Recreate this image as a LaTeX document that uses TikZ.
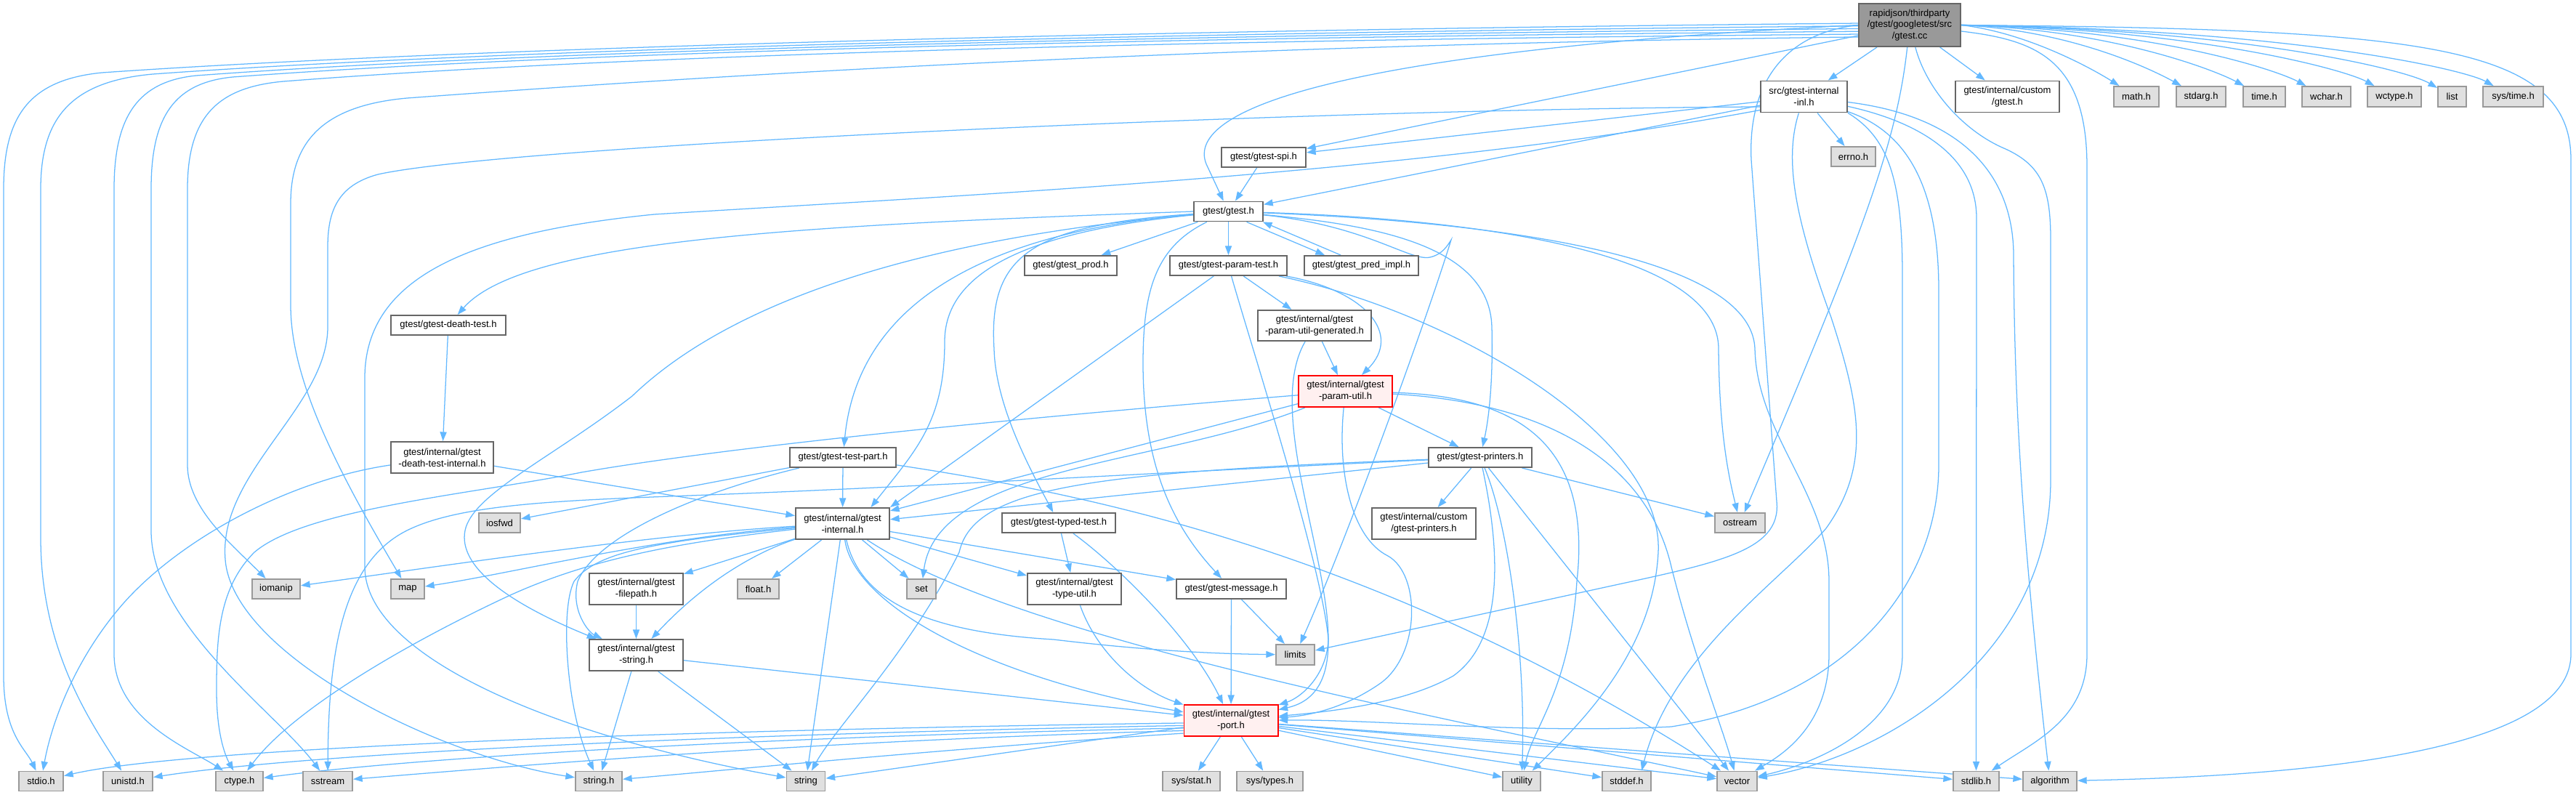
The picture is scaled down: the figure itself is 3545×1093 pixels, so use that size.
\documentclass[tikz,border=0pt]{standalone}
\usepackage{fontspec}
\setmainfont{Liberation Sans}
\usetikzlibrary{arrows.meta,backgrounds}
\definecolor{edgecol}{HTML}{63B8FF}
\definecolor{wborder}{HTML}{666666}
\definecolor{gborder}{HTML}{999999}
\definecolor{gfill}{HTML}{E0E0E0}
\definecolor{rootfill}{HTML}{999999}
\definecolor{rborder}{HTML}{FF0000}
\definecolor{rfill}{HTML}{FFF0F0}
\tikzset{
  bx/.style={rectangle, inner sep=0pt, align=center, line width=0.55pt, font=\fontsize{3.7}{4.5}\selectfont},
  wn/.style={bx, draw=wborder, fill=white},
  gn/.style={bx, draw=gborder, fill=gfill},
  rn/.style={bx, draw=rborder, fill=rfill},
  rootbox/.style={bx, draw=wborder, fill=rootfill},
  sz/.style 2 args={minimum width=#1cm, minimum height=#2cm},
  edg/.style={draw=edgecol, line width=0.36pt, -{Triangle[length=3.6pt,width=2.6pt]}},
}
\begin{document}
\begin{tikzpicture}[x=0.01cm,y=-0.01cm]
\useasboundingbox (0,0) rectangle (3545,1093);
% ---------- nodes ----------
\node[rootbox, sz={1.40}{0.59}] (root) at (2628,34.5) {rapidjson/thirdparty\\/gtest/googletest/src\\/gtest.cc};
\node[wn, sz={1.19}{0.43}] (inl) at (2482.5,133) {src/gtest-internal\\-inl.h};
\node[wn, sz={1.43}{0.43}] (cgtest) at (2762.5,133) {gtest/internal/custom\\/gtest.h};
\node[gn, sz={0.62}{0.28}] (math) at (2940,133) {math.h};
\node[gn, sz={0.68}{0.28}] (stdarg) at (3029,133) {stdarg.h};
\node[gn, sz={0.58}{0.28}] (timeh) at (3116,133) {time.h};
\node[gn, sz={0.67}{0.28}] (wchar) at (3201.5,133) {wchar.h};
\node[gn, sz={0.74}{0.28}] (wctype) at (3295,133) {wctype.h};
\node[gn, sz={0.39}{0.28}] (list) at (3374.5,133) {list};
\node[gn, sz={0.83}{0.28}] (systime) at (3458.5,133) {sys/time.h};
\node[gn, sz={0.61}{0.27}] (errno) at (2550.5,215.5) {errno.h};
\node[wn, sz={1.16}{0.27}] (spi) at (1739,216.5) {gtest/gtest-spi.h};
\node[wn, sz={0.95}{0.27}] (gtesth) at (1690.5,291) {gtest/gtest.h};
\node[wn, sz={1.27}{0.27}] (prod) at (1473.5,365.5) {gtest/gtest\_prod.h};
\node[wn, sz={1.61}{0.27}] (paramtest) at (1690.5,365.5) {gtest/gtest-param-test.h};
\node[wn, sz={1.57}{0.27}] (predimpl) at (1873.5,365.5) {gtest/gtest\_pred\_impl.h};
\node[wn, sz={1.56}{0.42}] (generated) at (1809,448) {gtest/internal/gtest\\-param-util-generated.h};
\node[wn, sz={1.58}{0.27}] (deathtest) at (617,447.5) {gtest/gtest-death-test.h};
\node[rn, sz={1.29}{0.43}] (paramutil) at (1851.5,538.5) {gtest/internal/gtest\\-param-util.h};
\node[wn, sz={1.41}{0.43}] (deathint) at (608.5,629.5) {gtest/internal/gtest\\-death-test-internal.h};
\node[wn, sz={1.46}{0.27}] (testpart) at (1160,629.5) {gtest/gtest-test-part.h};
\node[wn, sz={1.42}{0.27}] (printers) at (2037,629.5) {gtest/gtest-printers.h};
\node[wn, sz={1.29}{0.43}] (internal) at (1159.5,720.5) {gtest/internal/gtest\\-internal.h};
\node[gn, sz={0.57}{0.27}] (iosfwd) at (687.5,719.5) {iosfwd};
\node[wn, sz={1.56}{0.27}] (typedtest) at (1457,719.5) {gtest/gtest-typed-test.h};
\node[wn, sz={1.43}{0.43}] (cprinters) at (1959.5,720.5) {gtest/internal/custom\\/gtest-printers.h};
\node[gn, sz={0.69}{0.27}] (ostream) at (2394.5,719.5) {ostream};
\node[gn, sz={0.66}{0.27}] (iomanip) at (380,810.5) {iomanip};
\node[gn, sz={0.46}{0.27}] (map) at (561,810.5) {map};
\node[wn, sz={1.29}{0.43}] (filepath) at (875.5,810.5) {gtest/internal/gtest\\-filepath.h};
\node[gn, sz={0.57}{0.27}] (floath) at (1043.5,810.5) {float.h};
\node[gn, sz={0.40}{0.27}] (set) at (1268,810.5) {set};
\node[wn, sz={1.29}{0.43}] (typeutil) at (1478.5,810.5) {gtest/internal/gtest\\-type-util.h};
\node[wn, sz={1.51}{0.27}] (message) at (1694.5,810.5) {gtest/gtest-message.h};
\node[wn, sz={1.29}{0.43}] (gstring) at (875.5,901.5) {gtest/internal/gtest\\-string.h};
\node[gn, sz={0.53}{0.28}] (limits) at (1782.5,901) {limits};
\node[rn, sz={1.29}{0.43}] (port) at (1694,991.5) {gtest/internal/gtest\\-port.h};
\node[gn, sz={0.61}{0.27}] (stdio) at (56.5,1075) {stdio.h};
\node[gn, sz={0.68}{0.27}] (unistd) at (176,1075) {unistd.h};
\node[gn, sz={0.65}{0.27}] (ctype) at (329.5,1075) {ctype.h};
\node[gn, sz={0.68}{0.27}] (sstream) at (451,1075) {sstream};
\node[gn, sz={0.64}{0.27}] (stringh) at (824,1075) {string.h};
\node[gn, sz={0.53}{0.27}] (string) at (1109,1075) {string};
\node[gn, sz={0.79}{0.27}] (sysstat) at (1639.5,1075) {sys/stat.h};
\node[gn, sz={0.91}{0.27}] (systypes) at (1747.5,1075) {sys/types.h};
\node[gn, sz={0.52}{0.27}] (utility) at (2094,1075) {utility};
\node[gn, sz={0.67}{0.27}] (stddef) at (2238.5,1075) {stddef.h};
\node[gn, sz={0.55}{0.27}] (vector) at (2390.5,1075) {vector};
\node[gn, sz={0.63}{0.27}] (stdlib) at (2719.5,1075) {stdlib.h};
\node[gn, sz={0.74}{0.27}] (algorithm) at (2821,1075) {algorithm};
% ---------- edges ----------
\begin{scope}[on background layer]
% root
\draw[edg] (root.178) .. controls (1500,42) and (600,68) .. (140,100) .. controls (40,110) and (5,160) .. (5,260) -- (5,930) .. controls (5,1010) and (35,1030) .. (stdio);
\draw[edg] (root.181) .. controls (1500,46) and (650,70) .. (210,102) .. controls (100,112) and (56,160) .. (56,260) -- (56,740) .. controls (56,900) and (130,1000) .. (unistd);
\draw[edg] (root.184) .. controls (1500,49) and (700,72) .. (270,104) .. controls (190,112) and (157,160) .. (157,260) -- (157,900) .. controls (157,990) and (260,1030) .. (ctype);
\draw[edg] (root.187) .. controls (1500,52) and (750,74) .. (320,106) .. controls (240,114) and (208,160) .. (208,260) -- (208,730) .. controls (208,860) and (380,980) .. (sstream);
\draw[edg] (root.190) .. controls (1500,56) and (800,80) .. (390,112) .. controls (300,120) and (258,160) .. (258,260) -- (258,640) .. controls (258,700) and (320,750) .. (iomanip);
\draw[edg] (root.193) .. controls (1600,62) and (900,110) .. (560,135) .. controls (450,145) and (400,190) .. (400,280) -- (400,420) .. controls (400,520) and (460,640) .. (map);
\draw[edg] (root.west) .. controls (1850,70) and (1620,150) .. (1662,230) -- (gtesth);
\draw[edg] (root) -- (spi);
\draw[edg] (root) -- (inl);
\draw[edg] (root) -- (cgtest);
\draw[edg] (root.east) .. controls (2790,45) and (2880,95) .. (math);
\draw[edg] (root.east) .. controls (2850,42) and (2960,95) .. (stdarg);
\draw[edg] (root.east) .. controls (2900,40) and (3045,95) .. (timeh);
\draw[edg] (root.east) .. controls (2960,40) and (3130,95) .. (wchar);
\draw[edg] (root.east) .. controls (3020,40) and (3225,95) .. (wctype);
\draw[edg] (root.east) .. controls (3080,40) and (3310,95) .. (list);
\draw[edg] (root.east) .. controls (3150,40) and (3390,95) .. (systime);
\draw[edg] (root.east) .. controls (3330,40) and (3538,60) .. (3538,220) -- (3538,900) .. controls (3538,1040) and (3150,1068) .. (algorithm);
\draw[edg] (root) .. controls (2800,55) and (2872,80) .. (2872,230) -- (2872,900) .. controls (2872,990) and (2800,1020) .. (stdlib);
\draw[edg] (root) .. controls (2650,120) and (2700,180) .. (2760,205) .. controls (2810,228) and (2822,260) .. (2822,330) -- (2822,660) .. controls (2822,900) and (2600,1040) .. (vector);
\draw[edg] (root) .. controls (2610,200) and (2560,330) .. (ostream);
\draw[edg] (root.west) .. controls (2460,45) and (2405,110) .. (2410,220) -- (2445,690) .. controls (2452,760) and (2360,775) .. (2200,810) -- (limits);
% src/gtest-internal-inl.h
\draw[edg] (inl) -- (spi);
\draw[edg] (inl) -- (gtesth);
\draw[edg] (inl) -- (errno);
\draw[edg] (inl.193) .. controls (1800,150) and (700,200) .. (520,240) .. controls (465,255) and (451,290) .. (451,340) -- (451,450) .. controls (451,560) and (300,650) .. (310,770) .. controls (320,900) and (600,1040) .. (stringh);
\draw[edg] (inl.197) .. controls (1950,240) and (1300,270) .. (900,295) .. controls (650,320) and (502,380) .. (502,520) -- (502,780) .. controls (502,900) and (750,1010) .. (string);
\draw[edg] (inl) .. controls (2455,220) and (2470,300) .. (2520,437) .. controls (2560,560) and (2575,640) .. (2513,727) .. controls (2450,800) and (2300,900) .. (stddef.35);
\draw[edg] (inl.south east) .. controls (2600,190) and (2618,250) .. (2618,380) -- (2618,900) .. controls (2618,1000) and (2500,1050) .. (vector);
\draw[edg] (inl) .. controls (2620,180) and (2668,250) .. (2668,400) -- (2668,640) .. controls (2668,800) and (2550,960) .. (2300,1000) .. controls (2100,1010) and (1900,990) .. (port);
\draw[edg] (inl) .. controls (2650,170) and (2720,220) .. (2720,300) -- (stdlib);
\draw[edg] (inl) .. controls (2700,160) and (2770,240) .. (2771,350) .. controls (2772,600) and (2790,800) .. (algorithm);
% gtest/gtest.h
\draw[edg] (gtesth) -- (prod);
\draw[edg] (gtesth) -- (paramtest);
\draw[edg] (gtesth.-30) -- (predimpl.164);
\draw[edg] (gtesth.west) .. controls (1100,310) and (720,330) .. (deathtest);
\draw[edg] (gtesth) .. controls (1350,320) and (1180,420) .. (testpart);
\draw[edg] (gtesth) .. controls (1400,320) and (1300,380) .. (1300,470) .. controls (1300,580) and (1260,620) .. (internal.30);
\draw[edg] (gtesth) .. controls (1250,330) and (1000,420) .. (870,545) .. controls (760,630) and (650,680) .. (640,730) .. controls (630,780) and (700,830) .. (gstring);
\draw[edg] (gtesth) .. controls (1590,340) and (1573,400) .. (1573,500) .. controls (1573,650) and (1620,730) .. (message);
\draw[edg] (gtesth) .. controls (1420,310) and (1360,350) .. (1368,480) .. controls (1370,560) and (1420,650) .. (typedtest);
\draw[edg] (gtesth) .. controls (1900,310) and (2050,340) .. (2053,450) .. controls (2055,530) and (2048,580) .. (printers);
\draw[edg] (gtesth) .. controls (1880,310) and (1940,360) .. (1968,354) .. controls (1985,350) and (1992,338) .. (1997,330) .. controls (1960,450) and (1850,750) .. (limits);
\draw[edg] (gtesth) .. controls (2000,300) and (2365,340) .. (2365,480) .. controls (2366,600) and (2380,660) .. (ostream);
\draw[edg] (gtesth) .. controls (2050,305) and (2410,350) .. (2415,480) .. controls (2418,600) and (2517,680) .. (2517,800) -- (2517,900) .. controls (2517,1000) and (2450,1040) .. (vector);
% spi, pred_impl
\draw[edg] (spi) -- (gtesth);
\draw[edg] (predimpl.153) -- (gtesth.-17);
% param-test
\draw[edg] (paramtest) -- (internal.north east);
\draw[edg] (paramtest) .. controls (1720,470) and (1820,780) .. (1828,880) .. controls (1826,930) and (1790,960) .. (port);
\draw[edg] (paramtest) -- (generated);
\draw[edg] (paramtest) .. controls (1880,400) and (1930,460) .. (paramutil);
\draw[edg] (paramtest) .. controls (2000,430) and (2290,600) .. (2282,760) .. controls (2275,900) and (2170,1000) .. (utility);
% param-util-generated
\draw[edg] (generated) -- (paramutil);
\draw[edg] (generated) .. controls (1720,600) and (1920,940) .. (port);
% param-util
\draw[edg] (paramutil) -- (printers);
\draw[edg] (paramutil) .. controls (1840,650) and (1860,740) .. (1910,765) .. controls (1955,790) and (1955,900) .. (1900,940) .. controls (1850,975) and (1800,985) .. (port);
\draw[edg] (paramutil) -- (internal.15);
\draw[edg] (paramutil) .. controls (1600,640) and (1290,640) .. (set);
\draw[edg] (paramutil) .. controls (1400,575) and (1000,615) .. (800,650) .. controls (650,680) and (420,700) .. (350,760) .. controls (300,810) and (298,880) .. (298,950) .. controls (298,1010) and (310,1040) .. (ctype);
\draw[edg] (paramutil) .. controls (2100,545) and (2190,620) .. (2170,800) .. controls (2160,950) and (2110,1000) .. (utility);
\draw[edg] (paramutil) .. controls (2150,555) and (2270,650) .. (2300,780) .. controls (2330,900) and (2370,1000) .. (vector);
% printers
\draw[edg] (printers) -- (ostream);
\draw[edg] (printers) -- (cprinters);
\draw[edg] (printers) .. controls (2075,720) and (2100,900) .. (utility);
\draw[edg] (printers) -- (vector);
\draw[edg] (printers) .. controls (2065,760) and (2070,880) .. (2000,930) .. controls (1930,970) and (1820,980) .. (port);
\draw[edg] (printers) -- (internal.5);
\draw[edg] (printers) .. controls (1600,650) and (1300,668) .. (1000,680) .. controls (800,688) and (640,690) .. (560,730) .. controls (470,775) and (452,900) .. (sstream);
\draw[edg] (printers) .. controls (1500,650) and (1340,670) .. (1320,760) .. controls (1250,900) and (1150,1000) .. (string);
% test-part
\draw[edg] (testpart) -- (iosfwd);
\draw[edg] (testpart) -- (internal);
\draw[edg] (testpart) .. controls (950,680) and (820,740) .. (795,800) .. controls (785,840) and (810,870) .. (gstring);
\draw[edg] (testpart.-8) .. controls (1500,680) and (1900,760) .. (vector);
% death test
\draw[edg] (deathtest) -- (deathint);
\draw[edg] (deathint) -- (internal);
\draw[edg] (deathint) .. controls (400,660) and (250,740) .. (170,830) .. controls (100,910) and (70,1000) .. (stdio);
% gtest-internal.h
\draw[edg] (internal) .. controls (1175,830) and (1350,930) .. (port);
\draw[edg] (internal) .. controls (1185,830) and (1280,870) .. (1450,880) .. controls (1600,898) and (1700,900) .. (limits);
\draw[edg] (internal) .. controls (1400,880) and (2000,990) .. (vector);
\draw[edg] (internal) -- (message);
\draw[edg] (internal) -- (typeutil);
\draw[edg] (internal) -- (set);
\draw[edg] (internal) -- (string);
\draw[edg] (internal) -- (floath);
\draw[edg] (internal) -- (filepath);
\draw[edg] (internal) .. controls (1040,760) and (970,800) .. (gstring);
\draw[edg] (internal) .. controls (950,745) and (820,765) .. (700,820) .. controls (550,890) and (400,980) .. (ctype);
\draw[edg] (internal) .. controls (900,735) and (600,780) .. (iomanip);
\draw[edg] (internal) .. controls (900,740) and (700,790) .. (map);
\draw[edg] (internal) .. controls (900,745) and (820,760) .. (790,800) .. controls (770,840) and (780,980) .. (stringh);
% typed test, type util, message, filepath
\draw[edg] (typedtest) -- (typeutil);
\draw[edg] (typedtest) .. controls (1540,780) and (1640,880) .. (port);
\draw[edg] (typeutil) .. controls (1510,900) and (1570,950) .. (port);
\draw[edg] (message) -- (limits);
\draw[edg] (message) -- (port);
\draw[edg] (filepath) -- (gstring);
% gtest-string.h
\draw[edg] (gstring) -- (stringh);
\draw[edg] (gstring) -- (string);
\draw[edg] (gstring) -- (port);
% gtest-port.h
\draw[edg] (port) -- (sysstat);
\draw[edg] (port) -- (systypes);
\draw[edg] (port) -- (string);
\draw[edg] (port.195) .. controls (1300,1030) and (1000,1060) .. (stringh);
\draw[edg] (port.192) .. controls (1100,1020) and (700,1055) .. (sstream);
\draw[edg] (port.189) .. controls (1000,1015) and (550,1045) .. (ctype);
\draw[edg] (port.186) .. controls (900,1012) and (400,1040) .. (unistd);
\draw[edg] (port.183) .. controls (900,1005) and (250,1030) .. (stdio);
\draw[edg] (port) -- (utility);
\draw[edg] (port) -- (stddef);
\draw[edg] (port) -- (vector);
\draw[edg] (port) -- (stdlib);
\draw[edg] (port) -- (algorithm);
\end{scope}
\end{tikzpicture}
\end{document}
